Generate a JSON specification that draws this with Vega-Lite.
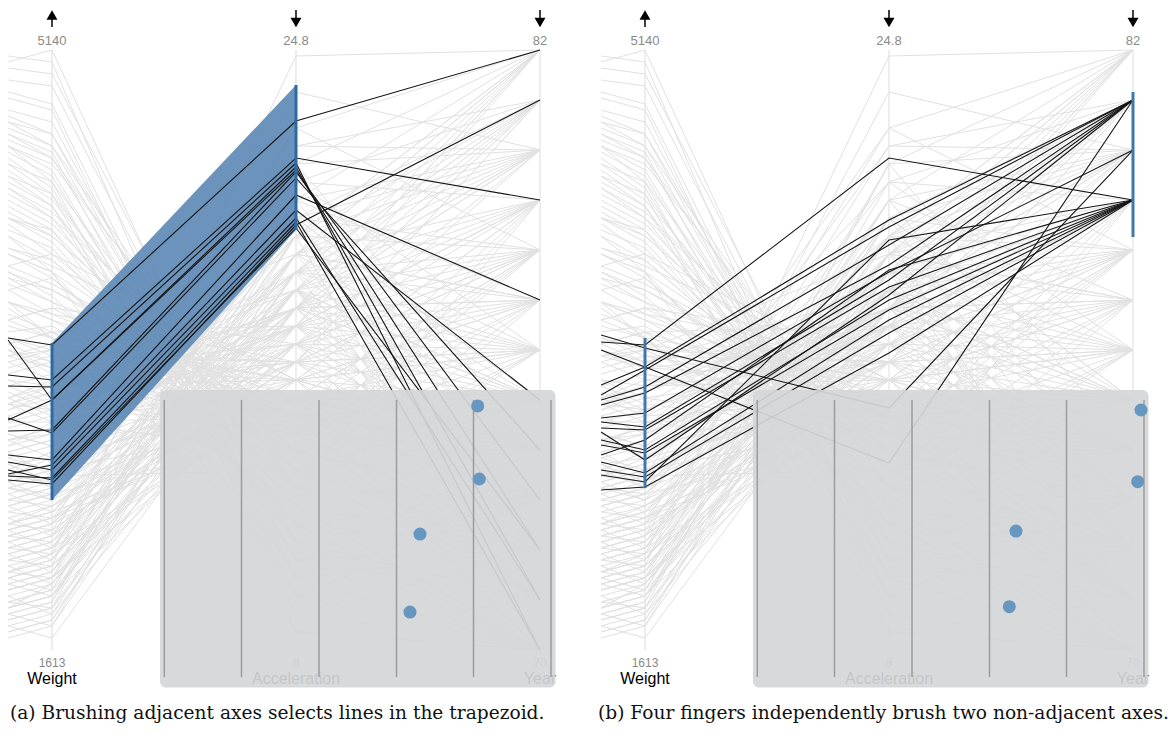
{
"$schema": "https://vega.github.io/schema/vega-lite/v6.json",
"padding": 0,
"spacing": 13,
"background": "white",
"config": {"view": {"stroke": null}},
"datasets": {
"pos": [{"k":"h","x":-0.18},{"k":"w","x":0},{"k":"a","x":1},{"k":"y","x":2}],
"cars": [
{"i":1,"h":0.56,"w":0.53,"a":0.24,"y":0},{"i":2,"h":0.63,"w":0.59,"a":0.21,"y":0},{"i":3,"h":0.57,"w":0.52,"a":0.18,"y":0},{"i":4,"h":0.55,"w":0.52,"a":0.24,"y":0},{"i":5,"h":0.58,"w":0.52,"a":0.15,"y":0},{"i":6,"h":0.82,"w":0.77,"a":0.12,"y":0},{"i":7,"h":0.84,"w":0.78,"a":0.06,"y":0},{"i":8,"h":0.81,"w":0.76,"a":0.03,"y":0},{"i":9,"h":0.84,"w":0.8,"a":0.12,"y":0},{"i":10,"h":0.69,"w":0.63,"a":0.03,"y":0},{"i":11,"h":0.19,"w":0.21,"a":0.42,"y":0},{"i":12,"h":0.15,"w":0.17,"a":0.42,"y":0},{"i":13,"h":0.21,"w":0.23,"a":0.39,"y":0},{"i":14,"h":0.07,"w":0.11,"a":0.69,"y":0},
{"i":15,"h":0.2,"w":0.22,"a":0.45,"y":0.0833},{"i":16,"h":0.1,"w":0.12,"a":0.51,"y":0.0833},{"i":17,"h":0.28,"w":0.3,"a":0.38,"y":0.0833},{"i":18,"h":0.34,"w":0.38,"a":0.33,"y":0.0833},{"i":19,"h":0.42,"w":0.45,"a":0.39,"y":0.0833},{"i":20,"h":0.78,"w":0.74,"a":0.18,"y":0.0833},{"i":21,"h":0.88,"w":0.84,"a":0.15,"y":0.0833},{"i":22,"h":0.72,"w":0.7,"a":0.27,"y":0.0833},{"i":23,"h":0.44,"w":0.41,"a":0.36,"y":0.0833},{"i":24,"h":0.07,"w":0.09,"a":0.6,"y":0.0833},{"i":25,"h":0.13,"w":0.16,"a":0.63,"y":0.0833},{"i":26,"h":0.6,"w":0.62,"a":0.3,"y":0.0833},
{"i":27,"h":0.12,"w":0.14,"a":0.57,"y":0.1667},{"i":28,"h":0.27,"w":0.25,"a":0.45,"y":0.1667},{"i":29,"h":0.3,"w":0.33,"a":0.48,"y":0.1667},{"i":30,"h":0.86,"w":0.82,"a":0.15,"y":0.1667},{"i":31,"h":0.9,"w":0.88,"a":0.12,"y":0.1667},{"i":32,"h":0.77,"w":0.72,"a":0.21,"y":0.1667},{"i":33,"h":0.21,"w":0.24,"a":0.54,"y":0.1667},{"i":34,"h":0.16,"w":0.18,"a":0.72,"y":0.1667},{"i":35,"h":0.5,"w":0.46,"a":0.36,"y":0.1667},{"i":36,"h":0.7,"w":0.67,"a":0.24,"y":0.1667},{"i":37,"h":0.03,"w":0.05,"a":0.66,"y":0.1667},{"i":38,"h":0.33,"w":0.29,"a":0.3,"y":0.1667},
{"i":39,"h":0.93,"w":0.91,"a":0.09,"y":0.25},{"i":40,"h":0.89,"w":0.86,"a":0.12,"y":0.25},{"i":41,"h":0.83,"w":0.79,"a":0.15,"y":0.25},{"i":42,"h":0.58,"w":0.55,"a":0.33,"y":0.25},{"i":43,"h":0.51,"w":0.48,"a":0.39,"y":0.25},{"i":44,"h":0.37,"w":0.39,"a":0.42,"y":0.25},{"i":45,"h":0.25,"w":0.27,"a":0.51,"y":0.25},{"i":46,"h":0.18,"w":0.2,"a":0.48,"y":0.25},{"i":47,"h":0.11,"w":0.13,"a":0.6,"y":0.25},{"i":48,"h":0.66,"w":0.62,"a":0.27,"y":0.25},{"i":49,"h":0.79,"w":0.74,"a":0.09,"y":0.25},{"i":50,"h":0.33,"w":0.35,"a":0.57,"y":0.25},{"i":51,"h":0.97,"w":0.96,"a":0.18,"y":0.25},{"i":52,"h":0.06,"w":0.08,"a":0.75,"y":0.25},{"i":53,"h":0.98,"w":1.0,"a":0.12,"y":0.25},
{"i":54,"h":0.08,"w":0.1,"a":0.51,"y":0.3333},{"i":55,"h":0.17,"w":0.19,"a":0.54,"y":0.3333},{"i":56,"h":0.24,"w":0.26,"a":0.6,"y":0.3333},{"i":57,"h":0.41,"w":0.44,"a":0.45,"y":0.3333},{"i":58,"h":0.52,"w":0.5,"a":0.48,"y":0.3333},{"i":59,"h":0.71,"w":0.66,"a":0.33,"y":0.3333},{"i":60,"h":0.8,"w":0.75,"a":0.27,"y":0.3333},{"i":61,"h":0.1,"w":0.12,"a":0.81,"y":0.3333},{"i":62,"h":0.29,"w":0.32,"a":0.42,"y":0.3333},{"i":63,"h":0.55,"w":0.57,"a":0.36,"y":0.3333},{"i":64,"h":0.02,"w":0.04,"a":0.63,"y":0.3333},
{"i":65,"h":0.49,"w":0.47,"a":0.51,"y":0.4167},{"i":66,"h":0.62,"w":0.58,"a":0.42,"y":0.4167},{"i":67,"h":0.73,"w":0.69,"a":0.33,"y":0.4167},{"i":68,"h":0.84,"w":0.81,"a":0.3,"y":0.4167},{"i":69,"h":0.35,"w":0.37,"a":0.54,"y":0.4167},{"i":70,"h":0.21,"w":0.23,"a":0.57,"y":0.4167},{"i":71,"h":0.13,"w":0.15,"a":0.66,"y":0.4167},{"i":72,"h":0.31,"w":0.28,"a":0.48,"y":0.4167},{"i":73,"h":0.51,"w":0.53,"a":0.39,"y":0.4167},{"i":74,"h":0.07,"w":0.09,"a":0.72,"y":0.4167},{"i":75,"h":0.4,"w":0.43,"a":0.6,"y":0.4167},{"i":76,"h":0.67,"w":0.64,"a":0.45,"y":0.4167},
{"i":77,"h":0.05,"w":0.07,"a":0.57,"y":0.5},{"i":78,"h":0.15,"w":0.17,"a":0.6,"y":0.5},{"i":79,"h":0.2,"w":0.22,"a":0.51,"y":0.5},{"i":80,"h":0.29,"w":0.31,"a":0.45,"y":0.5},{"i":81,"h":0.43,"w":0.4,"a":0.54,"y":0.5},{"i":82,"h":0.47,"w":0.49,"a":0.42,"y":0.5},{"i":83,"h":0.6,"w":0.56,"a":0.48,"y":0.5},{"i":84,"h":0.69,"w":0.65,"a":0.3,"y":0.5},{"i":85,"h":0.76,"w":0.72,"a":0.36,"y":0.5},{"i":86,"h":0.87,"w":0.84,"a":0.27,"y":0.5},{"i":87,"h":0.24,"w":0.26,"a":0.69,"y":0.5},{"i":88,"h":0.32,"w":0.34,"a":0.63,"y":0.5},
{"i":89,"h":0.1,"w":0.12,"a":0.54,"y":0.5833},{"i":90,"h":0.18,"w":0.2,"a":0.48,"y":0.5833},{"i":91,"h":0.27,"w":0.29,"a":0.63,"y":0.5833},{"i":92,"h":0.41,"w":0.38,"a":0.39,"y":0.5833},{"i":93,"h":0.49,"w":0.51,"a":0.45,"y":0.5833},{"i":94,"h":0.66,"w":0.63,"a":0.36,"y":0.5833},{"i":95,"h":0.75,"w":0.71,"a":0.3,"y":0.5833},{"i":96,"h":0.81,"w":0.78,"a":0.24,"y":0.5833},{"i":97,"h":0.13,"w":0.15,"a":0.75,"y":0.5833},{"i":98,"h":0.42,"w":0.44,"a":0.57,"y":0.5833},{"i":99,"h":0.55,"w":0.57,"a":0.51,"y":0.5833},
{"i":100,"h":0.07,"w":0.09,"a":0.63,"y":0.6667},{"i":101,"h":0.12,"w":0.14,"a":0.57,"y":0.6667},{"i":102,"h":0.22,"w":0.24,"a":0.51,"y":0.6667},{"i":103,"h":0.3,"w":0.33,"a":0.54,"y":0.6667},{"i":104,"h":0.45,"w":0.42,"a":0.48,"y":0.6667},{"i":105,"h":0.46,"w":0.48,"a":0.6,"y":0.6667},{"i":106,"h":0.58,"w":0.55,"a":0.42,"y":0.6667},{"i":107,"h":0.64,"w":0.61,"a":0.39,"y":0.6667},{"i":108,"h":0.72,"w":0.69,"a":0.33,"y":0.6667},{"i":109,"h":0.19,"w":0.21,"a":0.87,"y":0.6667},{"i":110,"h":0.34,"w":0.36,"a":0.69,"y":0.6667},{"i":111,"h":0.31,"w":0.27,"a":0.42,"y":0.6667},
{"i":112,"h":0.09,"w":0.11,"a":0.6,"y":0.75},{"i":113,"h":0.17,"w":0.19,"a":0.66,"y":0.75},{"i":114,"h":0.28,"w":0.3,"a":0.51,"y":0.75},{"i":115,"h":0.42,"w":0.39,"a":0.57,"y":0.75},{"i":116,"h":0.5,"w":0.47,"a":0.45,"y":0.75},{"i":117,"h":0.63,"w":0.6,"a":0.39,"y":0.75},{"i":118,"h":0.77,"w":0.73,"a":0.33,"y":0.75},{"i":119,"h":0.85,"w":0.82,"a":0.27,"y":0.75},{"i":120,"h":0.64,"w":0.66,"a":0.45,"y":0.75},{"i":121,"h":0.23,"w":0.25,"a":0.78,"y":0.75},{"i":122,"h":0.51,"w":0.53,"a":0.54,"y":0.75},
{"i":123,"h":0.04,"w":0.06,"a":0.69,"y":0.8333},{"i":124,"h":0.11,"w":0.13,"a":0.75,"y":0.8333},{"i":125,"h":0.16,"w":0.18,"a":0.6,"y":0.8333},{"i":126,"h":0.21,"w":0.23,"a":0.66,"y":0.8333},{"i":127,"h":0.26,"w":0.28,"a":0.84,"y":0.8333},{"i":128,"h":0.36,"w":0.34,"a":0.57,"y":0.8333},{"i":129,"h":0.39,"w":0.41,"a":0.63,"y":0.8333},{"i":130,"h":0.14,"w":0.16,"a":0.93,"y":0.8333},{"i":131,"h":0.06,"w":0.08,"a":0.81,"y":0.8333},{"i":132,"h":0.35,"w":0.37,"a":0.72,"y":0.8333},{"i":133,"h":0.48,"w":0.45,"a":0.51,"y":0.8333},
{"i":134,"h":0.03,"w":0.05,"a":0.66,"y":0.9167},{"i":135,"h":0.08,"w":0.1,"a":0.72,"y":0.9167},{"i":136,"h":0.13,"w":0.15,"a":0.63,"y":0.9167},{"i":137,"h":0.19,"w":0.21,"a":0.57,"y":0.9167},{"i":138,"h":0.25,"w":0.27,"a":0.69,"y":0.9167},{"i":139,"h":0.35,"w":0.32,"a":0.6,"y":0.9167},{"i":140,"h":0.38,"w":0.4,"a":0.54,"y":0.9167},{"i":141,"h":0.52,"w":0.49,"a":0.48,"y":0.9167},{"i":142,"h":0.33,"w":0.35,"a":0.78,"y":0.9167},{"i":143,"h":0.17,"w":0.19,"a":0.84,"y":0.9167},
{"i":144,"h":0.05,"w":0.07,"a":0.81,"y":1},{"i":145,"h":0.1,"w":0.12,"a":0.66,"y":1},{"i":146,"h":0.15,"w":0.17,"a":0.75,"y":1},{"i":147,"h":0.2,"w":0.22,"a":0.69,"y":1},{"i":148,"h":0.24,"w":0.26,"a":0.6,"y":1},{"i":149,"h":0.29,"w":0.31,"a":0.63,"y":1},{"i":150,"h":0.39,"w":0.36,"a":0.54,"y":1},{"i":151,"h":0.41,"w":0.43,"a":0.57,"y":1},{"i":152,"h":0.12,"w":0.14,"a":0.99,"y":1},{"i":153,"h":0.27,"w":0.29,"a":0.87,"y":1},{"i":154,"h":0.48,"w":0.5,"a":0.66,"y":1},
{"i":155,"h":0.04,"w":0.02,"a":0.57,"y":0.5833},{"i":156,"h":0.06,"w":0.04,"a":0.72,"y":0.6667},{"i":157,"h":0.09,"w":0.06,"a":0.54,"y":0.75},{"i":158,"h":0.08,"w":0.07,"a":0.63,"y":0.9167},{"i":159,"h":0.11,"w":0.09,"a":0.48,"y":0.8333},{"i":160,"h":0.12,"w":0.1,"a":0.78,"y":0.5},{"i":161,"h":0.14,"w":0.11,"a":0.57,"y":0.4167},{"i":162,"h":0.13,"w":0.12,"a":0.45,"y":0.3333},{"i":163,"h":0.16,"w":0.13,"a":0.69,"y":1},{"i":164,"h":0.15,"w":0.14,"a":0.51,"y":0.25},
{"i":165,"h":0.18,"w":0.15,"a":0.6,"y":0.1667},{"i":166,"h":0.17,"w":0.16,"a":0.42,"y":0.0833},{"i":167,"h":0.2,"w":0.17,"a":0.66,"y":0.5833},{"i":168,"h":0.19,"w":0.18,"a":0.54,"y":0.9167},{"i":169,"h":0.22,"w":0.19,"a":0.48,"y":0.6667},{"i":170,"h":0.21,"w":0.2,"a":0.72,"y":0.4167},{"i":171,"h":0.24,"w":0.21,"a":0.6,"y":0.8333},{"i":172,"h":0.23,"w":0.22,"a":0.39,"y":0.3333},{"i":173,"h":0.26,"w":0.23,"a":0.63,"y":0.75},{"i":174,"h":0.25,"w":0.24,"a":0.45,"y":0.5},
{"i":175,"h":0.28,"w":0.25,"a":0.57,"y":1},{"i":176,"h":0.27,"w":0.26,"a":0.36,"y":0.1667},{"i":177,"h":0.3,"w":0.27,"a":0.66,"y":0.5833},{"i":178,"h":0.29,"w":0.28,"a":0.54,"y":0.25},{"i":179,"h":0.32,"w":0.3,"a":0.48,"y":0.9167},{"i":180,"h":0.31,"w":0.32,"a":0.6,"y":0.4167},{"i":181,"h":0.36,"w":0.34,"a":0.42,"y":0.0833},{"i":182,"h":0.35,"w":0.36,"a":0.51,"y":0.6667},{"i":183,"h":0.38,"w":0.38,"a":0.45,"y":0.3333},{"i":184,"h":0.41,"w":0.4,"a":0.57,"y":0.8333},
{"i":185,"h":0.4,"w":0.42,"a":0.36,"y":0.1667},{"i":186,"h":0.45,"w":0.44,"a":0.48,"y":0.5},{"i":187,"h":0.44,"w":0.46,"a":0.39,"y":0},{"i":188,"h":0.5,"w":0.48,"a":0.54,"y":0.75},{"i":189,"h":0.49,"w":0.5,"a":0.33,"y":0.25},{"i":190,"h":0.54,"w":0.52,"a":0.45,"y":0.5833},{"i":191,"h":0.53,"w":0.54,"a":0.3,"y":0.0833},{"i":192,"h":0.58,"w":0.56,"a":0.39,"y":0.4167},{"i":193,"h":0.61,"w":0.58,"a":0.27,"y":0.1667},{"i":194,"h":0.62,"w":0.6,"a":0.36,"y":0.6667},
{"i":195,"h":0.66,"w":0.63,"a":0.21,"y":0},{"i":196,"h":0.67,"w":0.65,"a":0.3,"y":0.3333},{"i":197,"h":0.72,"w":0.68,"a":0.24,"y":0.5},{"i":198,"h":0.74,"w":0.7,"a":0.18,"y":0.0833},{"i":199,"h":0.79,"w":0.76,"a":0.21,"y":0.25},{"i":200,"h":0.86,"w":0.83,"a":0.09,"y":0},{"i":201,"h":0.88,"w":0.86,"a":0.18,"y":0.4167},{"i":202,"h":0.92,"w":0.9,"a":0.06,"y":0.1667},{"i":203,"h":0.95,"w":0.94,"a":0.15,"y":0.3333},{"i":204,"h":0.99,"w":0.98,"a":0.03,"y":0.0833}
],
"selA": [
{"i":1,"h":0.52,"w":0.5083,"a":0.8817,"y":1},{"i":2,"h":0.4583,"w":0.45,"a":0.82,"y":0.75},{"i":3,"h":0.44,"w":0.4383,"a":0.8117,"y":0},{"i":4,"h":0.3833,"w":0.4167,"a":0.805,"y":0.0833},{"i":5,"h":0.5167,"w":0.4167,"a":0.8,"y":0.1667},{"i":6,"h":0.365,"w":0.3667,"a":0.7967,"y":0.25},{"i":7,"h":0.3867,"w":0.3617,"a":0.7867,"y":0.3333},{"i":8,"h":0.325,"w":0.3167,"a":0.7583,"y":0.5833},{"i":9,"h":0.2933,"w":0.3083,"a":0.7333,"y":0.4167},{"i":10,"h":0.3133,"w":0.3,"a":0.72,"y":0.0833},{"i":11,"h":0.29,"w":0.2867,"a":0.7133,"y":0},{"i":12,"h":0.2833,"w":0.2767,"a":0.7083,"y":0.9167},{"i":13,"h":0.3,"w":0.2833,"a":0.7033,"y":0.1667}
],
"selB": [
{"i":1,"h":0.5133,"w":0.5083,"a":0.82,"y":0.75},{"i":2,"h":0.525,"w":0.5033,"a":0.4033,"y":0.8333},{"i":3,"h":0.5,"w":0.4717,"a":0.3117,"y":0.9167},{"i":4,"h":0.4417,"w":0.4717,"a":0.7167,"y":0.9167},{"i":5,"h":0.425,"w":0.4667,"a":0.705,"y":0.9167},{"i":6,"h":0.4167,"w":0.4383,"a":0.675,"y":0.9167},{"i":7,"h":0.4083,"w":0.4283,"a":0.6417,"y":0.9167},{"i":8,"h":0.3867,"w":0.395,"a":0.63,"y":0.8333},{"i":9,"h":0.38,"w":0.3717,"a":0.6167,"y":0.9167},{"i":10,"h":0.37,"w":0.3667,"a":0.605,"y":0.75},{"i":11,"h":0.35,"w":0.3333,"a":0.5833,"y":0.75},{"i":12,"h":0.3417,"w":0.3283,"a":0.5667,"y":0.75},{"i":13,"h":0.3133,"w":0.295,"a":0.55,"y":0.75},{"i":14,"h":0.3,"w":0.2883,"a":0.5283,"y":0.75},{"i":15,"h":0.2667,"w":0.2717,"a":0.495,"y":0.75},{"i":16,"h":0.325,"w":0.35,"a":0.6333,"y":0.75},{"i":17,"h":0.3633,"w":0.3167,"a":0.5917,"y":0.9167},{"i":18,"h":0.2917,"w":0.28,"a":0.6833,"y":0.75}
],
"axes": [{"x":0,"v":0,"v2":1},{"x":1,"v":0,"v2":1},{"x":2,"v":0,"v2":1}],
"stems": [{"x":0,"v":1.0583,"v2":1.0383},{"x":1,"v":1.0667,"v2":1.0458},{"x":2,"v":1.0667,"v2":1.0458}],
"heads": [{"x":0,"v":1.0583,"s":"triangle-up"},{"x":1,"v":1.0458,"s":"triangle-down"},{"x":2,"v":1.0458,"s":"triangle-down"}],
"top": [{"x":0,"v":1.0083,"t":"5140"},{"x":1,"v":1.0083,"t":"24.8"},{"x":2,"v":1.0083,"t":"82"}],
"bot": [{"x":0,"v":-0.0283,"t":"1613"},{"x":1,"v":-0.0283,"t":"8"},{"x":2,"v":-0.0283,"t":"70"}],
"tit": [{"x":0,"v":-0.0567,"t":"Weight"},{"x":1,"v":-0.0567,"t":"Acceleration"},{"x":2,"v":-0.0567,"t":"Year"}],
"box": [{"x":0.4426,"x2":2.0635,"v":0.4333,"v2":-0.0625}],
"ticks": [{"x":0.4602,"v":0.4167,"v2":-0.045},{"x":0.7766,"v":0.4167,"v2":-0.045},{"x":1.0943,"v":0.4167,"v2":-0.045},{"x":1.4119,"v":0.4167,"v2":-0.045},{"x":1.7275,"v":0.4167,"v2":-0.045},{"x":2.0451,"v":0.4167,"v2":-0.045}]
},
"hconcat": [
{
"width": 580, "height": 735,
"encoding": {
"x": {"field":"x","type":"quantitative","axis":null,"scale":{"domain":[-0.21311,2.16393],"nice":false,"zero":false}},
"y": {"field":"v","type":"quantitative","axis":null,"scale":{"domain":[-0.14167,1.08333],"nice":false,"zero":false}}
},
"layer": [
{"data":{"name":"axes"},"mark":{"type":"rule","color":"#e8e8e8","strokeWidth":1.5},"encoding":{"y2":{"field":"v2"}}},
{"data":{"name":"cars"},"transform":[{"fold":["h","w","a","y"],"as":["k","v"]},{"lookup":"k","from":{"data":{"name":"pos"},"key":"k","fields":["x"]}}],"mark":{"type":"line","color":"#e1e1e1","strokeWidth":1},"encoding":{"detail":{"field":"i","type":"nominal"}}},
{"data":{"values":[{"x":0,"v":0.25,"v2":0.5117},{"x":1,"v":0.70,"v2":0.9417}]},"mark":{"type":"area","color":"#5b87b4","opacity":0.9},"encoding":{"y2":{"field":"v2"}}},
{"data":{"name":"selA"},"transform":[{"fold":["h","w","a","y"],"as":["k","v"]},{"lookup":"k","from":{"data":{"name":"pos"},"key":"k","fields":["x"]}}],"mark":{"type":"line","color":"#151515","strokeWidth":1.1},"encoding":{"detail":{"field":"i","type":"nominal"}}},
{"data":{"values":[{"x":0,"v":0.25,"v2":0.5117},{"x":1,"v":0.70,"v2":0.9417}]},"mark":{"type":"rule","color":"#2c6aa3","strokeWidth":3},"encoding":{"y2":{"field":"v2"}}},
{"data":{"name":"stems"},"mark":{"type":"rule","color":"black","strokeWidth":1.5},"encoding":{"y2":{"field":"v2"}}},
{"data":{"name":"heads"},"mark":{"type":"point","filled":true,"color":"black","opacity":1,"size":120},"encoding":{"shape":{"field":"s","type":"nominal","scale":null}}},
{"data":{"name":"top"},"mark":{"type":"text","font":"Liberation Sans","fontSize":13,"color":"#8a8a8a","baseline":"alphabetic"},"encoding":{"text":{"field":"t"}}},
{"data":{"name":"bot"},"mark":{"type":"text","font":"Liberation Sans","fontSize":12,"color":"#8a8a8a","baseline":"alphabetic"},"encoding":{"text":{"field":"t"}}},
{"data":{"name":"tit"},"mark":{"type":"text","font":"Liberation Sans","fontSize":16,"color":"#000000","baseline":"alphabetic"},"encoding":{"text":{"field":"t"}}},
{"data":{"name":"box"},"mark":{"type":"rect","color":"#d5d6d8","opacity":0.92,"cornerRadius":6},"encoding":{"x2":{"field":"x2"},"y2":{"field":"v2"}}},
{"data":{"name":"ticks"},"mark":{"type":"rule","color":"#9c9c9c","strokeWidth":1.5},"encoding":{"y2":{"field":"v2"}}},
{"data":{"values":[{"x":1.7447,"v":0.4067},{"x":1.7512,"v":0.285},{"x":1.5082,"v":0.1933},{"x":1.4672,"v":0.0633}]},"mark":{"type":"circle","color":"#6597c1","opacity":1,"size":170}},
{"data":{"values":[{"x":-0.1721,"v":-0.115,"t":"(a) Brushing adjacent axes selects lines in the trapezoid."}]},"mark":{"type":"text","font":"DejaVu Serif","fontSize":18.6,"color":"#111111","align":"left","baseline":"alphabetic"},"encoding":{"text":{"field":"t"}}}
]
},
{
"width": 580, "height": 735,
"encoding": {
"x": {"field":"x","type":"quantitative","axis":null,"scale":{"domain":[-0.21311,2.16393],"nice":false,"zero":false}},
"y": {"field":"v","type":"quantitative","axis":null,"scale":{"domain":[-0.14167,1.08333],"nice":false,"zero":false}}
},
"layer": [
{"data":{"name":"axes"},"mark":{"type":"rule","color":"#e8e8e8","strokeWidth":1.5},"encoding":{"y2":{"field":"v2"}}},
{"data":{"name":"cars"},"transform":[{"fold":["h","w","a","y"],"as":["k","v"]},{"lookup":"k","from":{"data":{"name":"pos"},"key":"k","fields":["x"]}}],"mark":{"type":"line","color":"#e1e1e1","strokeWidth":1},"encoding":{"detail":{"field":"i","type":"nominal"}}},
{"data":{"name":"selB"},"transform":[{"fold":["h","w","a","y"],"as":["k","v"]},{"lookup":"k","from":{"data":{"name":"pos"},"key":"k","fields":["x"]}}],"mark":{"type":"line","color":"#151515","strokeWidth":1.1},"encoding":{"detail":{"field":"i","type":"nominal"}}},
{"data":{"values":[{"x":0,"v":0.27,"v2":0.52},{"x":2,"v":0.6883,"v2":0.93}]},"mark":{"type":"rule","color":"#3f78ad","strokeWidth":3},"encoding":{"y2":{"field":"v2"}}},
{"data":{"name":"stems"},"mark":{"type":"rule","color":"black","strokeWidth":1.5},"encoding":{"y2":{"field":"v2"}}},
{"data":{"name":"heads"},"mark":{"type":"point","filled":true,"color":"black","opacity":1,"size":120},"encoding":{"shape":{"field":"s","type":"nominal","scale":null}}},
{"data":{"name":"top"},"mark":{"type":"text","font":"Liberation Sans","fontSize":13,"color":"#8a8a8a","baseline":"alphabetic"},"encoding":{"text":{"field":"t"}}},
{"data":{"name":"bot"},"mark":{"type":"text","font":"Liberation Sans","fontSize":12,"color":"#8a8a8a","baseline":"alphabetic"},"encoding":{"text":{"field":"t"}}},
{"data":{"name":"tit"},"mark":{"type":"text","font":"Liberation Sans","fontSize":16,"color":"#000000","baseline":"alphabetic"},"encoding":{"text":{"field":"t"}}},
{"data":{"name":"box"},"mark":{"type":"rect","color":"#d5d6d8","opacity":0.92,"cornerRadius":6},"encoding":{"x2":{"field":"x2"},"y2":{"field":"v2"}}},
{"data":{"name":"ticks"},"mark":{"type":"rule","color":"#9c9c9c","strokeWidth":1.5},"encoding":{"y2":{"field":"v2"}}},
{"data":{"values":[{"x":2.0328,"v":0.4},{"x":2.0193,"v":0.2805},{"x":1.5205,"v":0.1983},{"x":1.493,"v":0.0722}]},"mark":{"type":"circle","color":"#6597c1","opacity":1,"size":170}},
{"data":{"values":[{"x":-0.1926,"v":-0.115,"t":"(b) Four fingers independently brush two non-adjacent axes."}]},"mark":{"type":"text","font":"DejaVu Serif","fontSize":18.6,"color":"#111111","align":"left","baseline":"alphabetic"},"encoding":{"text":{"field":"t"}}}
]
}
]
}
